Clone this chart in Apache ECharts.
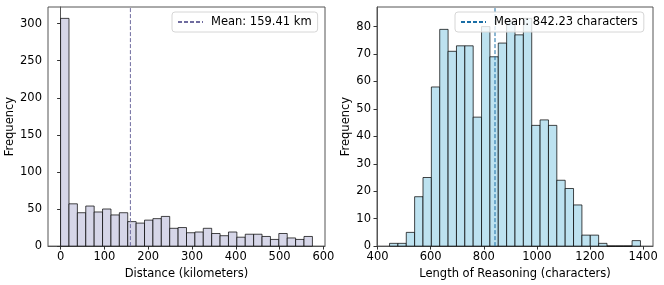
<!DOCTYPE html>
<html>
<head>
<meta charset="utf-8">
<script src="https://cdn.jsdelivr.net/npm/echarts@6/dist/echarts.min.js"></script>
<style>
html,body{margin:0;padding:0;background:#fff;}
#c{width:664px;height:285px;}
</style>
</head>
<body>
<div id="c"></div>
<script>
// ---- data ----
const distRange = [0, 575];            // histogram data range (km)
const distCounts = [307, 57, 45, 54, 46, 50, 42, 45, 33, 31, 35, 37, 40, 24, 25, 18, 19, 24, 17, 14, 19, 12, 16, 16, 13, 9, 17, 11, 9, 13];
const distMean = 159.41;
const distTicksX = [0, 100, 200, 300, 400, 500, 600];
const distTicksY = [0, 50, 100, 150, 200, 250, 300];

const lenRange = [445, 1390];          // histogram data range (characters)
const lenCounts = [1, 1, 5, 18, 25, 58, 79, 71, 73, 73, 47, 80, 69, 74, 82, 77, 83, 44, 46, 44, 24, 21, 15, 4, 4, 1, 0, 0, 0, 2];
const lenMean = 842.23;
const lenTicksX = [400, 600, 800, 1000, 1200, 1400];
const lenTicksY = [0, 10, 20, 30, 40, 50, 60, 70, 80];

const distLegend = 'Mean: ' + distMean.toFixed(2) + ' km';
const lenLegend = 'Mean: ' + lenMean.toFixed(2) + ' characters';

// ---- helpers ----
function bins(range, counts) {
  const n = counts.length, w = (range[1] - range[0]) / n;
  return counts.map((c, i) => [range[0] + i * w, range[0] + (i + 1) * w, c]);
}
function pad(range) {
  const d = range[1] - range[0];
  return [range[0] - 0.05 * d, range[1] + 0.05 * d];
}
const FONT = 'DejaVu Sans';
const FS = 11.5;
const plain = v => String(v);

function xAxis(grid, range, ticks, name) {
  const p = pad(range);
  return {
    type: 'value', gridIndex: grid, min: p[0], max: p[1],
    name: name, nameLocation: 'middle', nameGap: 18,
    nameTextStyle: {fontFamily: FONT, fontSize: FS, color: '#000'},
    axisLine: {show: true, onZero: false, lineStyle: {color: '#555', width: 1}},
    axisTick: {show: true, length: 3.5, customValues: ticks, lineStyle: {color: '#333'}},
    axisLabel: {customValues: ticks, formatter: plain, fontFamily: FONT, fontSize: FS, color: '#000', margin: 5},
    splitLine: {show: false}
  };
}
function yAxis(grid, max, ticks, gap) {
  return {
    type: 'value', gridIndex: grid, min: 0, max: max,
    name: 'Frequency', nameLocation: 'middle', nameGap: gap, nameRotate: 90,
    nameTextStyle: {fontFamily: FONT, fontSize: FS, color: '#000'},
    axisLine: {show: true, lineStyle: {color: '#555', width: 1}},
    axisTick: {show: true, length: 3.5, customValues: ticks, lineStyle: {color: '#333'}},
    axisLabel: {customValues: ticks, formatter: plain, fontFamily: FONT, fontSize: FS, color: '#000', margin: 6},
    splitLine: {show: false}
  };
}
function histSeries(idx, data, fill) {
  return {
    type: 'custom', xAxisIndex: idx, yAxisIndex: idx,
    data: data,
    renderItem: function (params, api) {
      const p0 = api.coord([api.value(0), api.value(2)]);
      const p1 = api.coord([api.value(1), 0]);
      return {
        type: 'rect',
        shape: {x: p0[0], y: p0[1], width: p1[0] - p0[0], height: p1[1] - p0[1]},
        style: {fill: fill, stroke: 'rgba(0,0,0,0.72)', lineWidth: 1}
      };
    },
    encode: {x: [0, 1], y: 2}
  };
}
function meanSeries(idx, name, mean, ymax, color) {
  return {
    type: 'line', name: name, xAxisIndex: idx, yAxisIndex: idx,
    data: [[mean, 0], [mean, ymax]],
    symbol: 'none', silent: true, z: 3,
    lineStyle: {color: color, width: 1, type: [4, 2]},
    itemStyle: {color: color}
  };
}

const distMax = Math.max(...distCounts) * 1.05;
const lenMax = Math.max(...lenCounts) * 1.05;
const distColor = '#6f6c9f';
const lenColor = '#1a6ea6';

const legendBase = {
  top: 12, orient: 'horizontal', itemWidth: 25, itemHeight: 10,
  padding: [4, 6, 4, 5],
  backgroundColor: 'rgba(255,255,255,0.8)', borderColor: '#d6d6d6', borderWidth: 1, borderRadius: 3,
  itemStyle: {opacity: 0},
  textStyle: {fontFamily: FONT, fontSize: FS, color: '#000', padding: [0, 0, 0, 3]},
  z: 10
};

const chart = echarts.init(document.getElementById('c'), null, {renderer: 'canvas'});
chart.setOption({
  animation: false,
  backgroundColor: '#fff',
  grid: [
    {left: 48, top: 7, width: 277, height: 240, show: true, borderColor: '#555', borderWidth: 1, backgroundColor: 'transparent'},
    {left: 377, top: 7, width: 276, height: 240, show: true, borderColor: '#555', borderWidth: 1, backgroundColor: 'transparent'}
  ],
  xAxis: [
    xAxis(0, distRange, distTicksX, 'Distance (kilometers)'),
    xAxis(1, lenRange, lenTicksX, 'Length of Reasoning (characters)')
  ],
  yAxis: [
    yAxis(0, distMax, distTicksY, 30),
    yAxis(1, lenMax, lenTicksY, 22)
  ],
  legend: [
    Object.assign({}, legendBase, {left: 172, data: [distLegend]}),
    Object.assign({}, legendBase, {left: 455, data: [lenLegend]})
  ],
  series: [
    histSeries(0, bins(distRange, distCounts), '#d6d6e8'),
    histSeries(1, bins(lenRange, lenCounts), '#bde2f0'),
    meanSeries(0, distLegend, distMean, distMax, distColor),
    meanSeries(1, lenLegend, lenMean, lenMax, lenColor)
  ]
});
</script>
</body>
</html>
